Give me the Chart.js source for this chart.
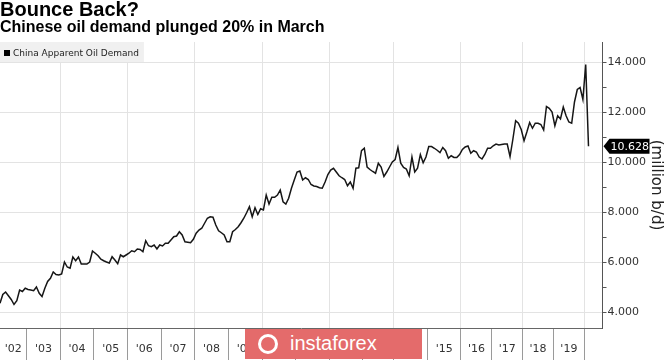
<!DOCTYPE html>
<html>
<head>
<meta charset="utf-8">
<script src="https://cdn.jsdelivr.net/npm/chart.js@4.4.1/dist/chart.umd.min.js"></script>
<style>
  body { margin: 0; background: #fff; }
  #wrap { position: relative; width: 665px; height: 360px; }
  #stamp {
    position: absolute; left: 245px; top: 329px; width: 177px; height: 30px;
    box-sizing: border-box; padding-left: 45px;
    background: #e46b6b; color: #fff;
    font: 20px "Liberation Sans", Arial, sans-serif; line-height: 29px;
  }
  #stamp .logo {
    position: absolute; left: 13px; top: 5px; width: 14px; height: 14px;
    border: 3px solid #fff; border-radius: 50%;
  }
</style>
</head>
<body>
<div id="wrap">
  <canvas id="oilChart"></canvas>
  <div id="stamp"><span class="logo"></span>instaforex</div>
</div>
<script>
// monthly China apparent oil demand, million b/d (Jan-Feb reported together in later years)
const years = [2002, 2003, 2004, 2005, 2006, 2007, 2008, 2009, 2010, 2011,
               2012, 2013, 2014, 2015, 2016, 2017, 2018, 2019, 2020];
const v2002 = [4.35, 4.7, 4.8, 4.65, 4.5, 4.3, 4.45, 4.88, 4.82, 4.95];
const v2003 = [4.9, 4.88, 4.85, 5.0, 4.75, 4.62, 4.95, 5.22, 5.35, 5.6, 5.5, 5.48];
const v2004 = [5.52, 6.0, 5.8, 5.75, 6.2, 6.05, 6.2, 5.92, 5.92, 5.92, 6.0, 6.44];
const v2005 = [6.35, 6.25, 6.11, 6.05, 6.0, 5.96, 6.21, 6.08, 5.93, 6.28, 6.21, 6.28];
const v2006 = [6.35, 6.45, 6.41, 6.52, 6.5, 6.41, 6.85, 6.65, 6.61, 6.68, 6.52, 6.68];
const v2007 = [6.64, 6.75, 6.75, 6.88, 7.01, 7.04, 7.21, 7.08, 6.81, 6.79, 6.77, 6.91];
const v2008 = [7.15, 7.28, 7.35, 7.55, 7.75, 7.81, 7.79, 7.48, 7.25, 7.17, 7.08, 6.81];
const v2009 = [6.81, 7.21, 7.3, 7.41, 7.57, 7.75, 7.97, 8.21, 7.81, 8.17, 7.9, 8.13];
const v2010 = [8.08, 8.68, 8.32, 8.59, 8.59, 8.68, 8.88, 8.41, 8.32, 8.55, 8.95, 9.28];
const v2011 = [9.6, 9.64, 9.28, 9.37, 9.3, 9.1, 9.04, 9.02, 8.97, 8.95, 9.2, 9.5];
const v2012 = [9.68, 9.75, 9.6, 9.45, 9.37, 9.3, 9.05, 9.2, 8.95, 9.75, 9.77, 10.45];
const v2013 = [10.55, 9.8, 9.7, 9.62, 9.55, 9.95, 9.8, 9.42, 9.6, 9.8, 10.0];
const v2014 = [10.1, 10.58, 9.95, 9.78, 9.72, 9.45, 10.2, 9.6, 9.75, 10.3, 9.97, 10.2];
const v2015 = [10.62, 10.62, 10.55, 10.47, 10.38, 10.58, 10.45, 10.15, 10.25, 10.18, 10.18, 10.3];
const v2016 = [10.5, 10.6, 10.64, 10.35, 10.45, 10.4, 10.2, 10.12, 10.3, 10.55, 10.55];
const v2017 = [10.65, 10.72, 10.68, 10.7, 10.72, 10.72, 10.22, 10.9, 11.65, 11.55, 11.3];
const v2018 = [10.85, 11.2, 11.58, 11.35, 11.55, 11.55, 11.5, 11.28, 12.22, 12.15, 12.0];
const v2019 = [11.45, 11.85, 11.72, 12.2, 11.85, 11.6, 11.55, 12.4, 12.9, 12.98, 12.5];
const v2020 = [13.9, 10.628];
const yearSeries = [v2002, v2003, v2004, v2005, v2006, v2007, v2008, v2009, v2010, v2011,
                    v2012, v2013, v2014, v2015, v2016, v2017, v2018, v2019, v2020];
const yearTicks = ["'02", "'03", "'04", "'05", "'06", "'07", "'08", "'09", "'10", "'11",
                   "'12", "'13", "'14", "'15", "'16", "'17", "'18", "'19"];
const monthNames = ['Jan', 'Feb', 'Mar', 'Apr', 'May', 'Jun', 'Jul', 'Aug', 'Sep', 'Oct', 'Nov', 'Dec'];
const yTicks = [4, 5, 6, 7, 8, 9, 10, 11, 12, 13, 14];
const yLabelled = [4, 6, 8, 10, 12, 14];

const TEXT = '"DejaVu Sans", sans-serif';
const HEAD = '"Liberation Sans", Arial, sans-serif';

function monthsFor(year, n) {
    if (n === 12) return monthNames.slice();
    if (year === 2002) return monthNames.slice(12 - n);
    return ['Jan-Feb'].concat(monthNames.slice(2, n + 1));
}

const labels = [];
const values = [];
const yearStart = {};
const yearSpans = [];
years.forEach((yr, k) => {
    const vals = yearSeries[k];
    const start = values.length;
    yearStart[start] = yr;
    monthsFor(yr, vals.length).forEach((m, j) => {
        labels.push(m + ' ' + yr);
        values.push(vals[j]);
    });
    if (yearTicks[k]) yearSpans.push({ text: yearTicks[k], from: start, to: start + vals.length - 1 });
});
// a little empty room right of the last month, as in the original
for (let s = 0; s < 5; s++) labels.push('');
const lastValue = values[values.length - 1];

// year labels sit between the long year ticks, below the axis
const yearLabels = {
    id: 'yearLabels',
    afterDraw(chart) {
        const { ctx } = chart;
        const xs = chart.scales.x;
        ctx.save();
        ctx.font = '11px ' + TEXT;
        ctx.fillStyle = '#333';
        ctx.textAlign = 'center';
        ctx.textBaseline = 'middle';
        yearSpans.forEach(s => {
            const mid = (Math.max(s.from - 0.5, 0) + s.to + 0.5) / 2;
            ctx.fillText(s.text, xs.getPixelForValue(mid), xs.top + 21.5);
        });
        ctx.restore();
    }
};

const legendBox = {
    id: 'legendBox',
    afterDatasetsDraw(chart) {
        const { ctx, chartArea } = chart;
        const text = chart.data.datasets[0].label;
        ctx.save();
        ctx.font = '9px ' + TEXT;
        const w = ctx.measureText(text).width;
        ctx.fillStyle = '#f0f0f0';
        ctx.fillRect(chartArea.left, chartArea.top, w + 18, 20);
        ctx.fillStyle = '#000';
        ctx.fillRect(chartArea.left + 4, chartArea.top + 8, 6, 6);
        ctx.fillStyle = '#222';
        ctx.textBaseline = 'middle';
        ctx.fillText(text, chartArea.left + 13, chartArea.top + 11.5);
        ctx.restore();
    }
};

const lastTag = {
    id: 'lastTag',
    afterDraw(chart) {
        const { ctx, chartArea } = chart;
        const y = chart.scales.y.getPixelForValue(lastValue);
        const x = chartArea.right + 1;
        ctx.save();
        ctx.fillStyle = '#000';
        ctx.beginPath();
        ctx.moveTo(x, y);
        ctx.lineTo(x + 6, y - 7.5);
        ctx.lineTo(x + 46, y - 7.5);
        ctx.lineTo(x + 46, y + 7.5);
        ctx.lineTo(x + 6, y + 7.5);
        ctx.closePath();
        ctx.fill();
        ctx.fillStyle = '#fff';
        ctx.font = '11px ' + TEXT;
        ctx.textBaseline = 'middle';
        ctx.fillText(lastValue.toFixed(3), x + 7, y + 0.5);
        ctx.restore();
    }
};

const ctx = document.getElementById('oilChart').getContext('2d');
new Chart(ctx, {
    type: 'line',
    data: {
        labels: labels,
        datasets: [{
            label: 'China Apparent Oil Demand',
            data: values,
            borderColor: '#161616',
            borderWidth: 1.5,
            pointRadius: 0,
            tension: 0,
            fill: false
        }]
    },
    options: {
        responsive: true,
        maintainAspectRatio: false,
        animation: false,
        layout: { padding: 0 },
        plugins: {
            legend: { display: false },
            tooltip: { enabled: false },
            title: {
                display: true,
                text: 'Bounce Back?',
                align: 'start',
                color: '#000',
                font: { family: HEAD, size: 20, weight: 'bold', lineHeight: 1 },
                padding: { top: 0, bottom: 0 }
            },
            subtitle: {
                display: true,
                text: 'Chinese oil demand plunged 20% in March',
                align: 'start',
                color: '#000',
                font: { family: HEAD, size: 16, weight: 'bold', lineHeight: 1 },
                padding: { top: 0, bottom: 6 }
            }
        },
        scales: {
            x: {
                type: 'category',
                offset: false,
                border: { color: '#666' },
                grid: {
                    offset: true,
                    tickLength: 32,
                    color: c => {
                        const yr = yearStart[c.index];
                        return yr && yr > 2002 && yr % 2 === 0 ? '#e3e3e3' : 'transparent';
                    },
                    tickColor: c => {
                        const yr = yearStart[c.index];
                        return yr && yr > 2002 ? '#9a9a9a' : 'transparent';
                    }
                },
                ticks: { display: false }
            },
            y: {
                position: 'right',
                min: 3.36,
                max: 14.8,
                afterBuildTicks: scale => {
                    scale.ticks = yTicks.map(v => ({ value: v }));
                },
                border: { color: '#555' },
                grid: {
                    tickLength: 4,
                    tickColor: '#555',
                    color: c => (c.tick && c.tick.value % 2 === 0 ? '#e3e3e3' : 'transparent')
                },
                ticks: {
                    padding: 1,
                    color: '#333',
                    font: { family: TEXT, size: 11 },
                    callback: v => (yLabelled.includes(v) ? v.toFixed(3) : '')
                },
                title: {
                    display: true,
                    text: '(million b/d)',
                    color: '#222',
                    font: { family: TEXT, size: 15 },
                    padding: { top: 0, bottom: 0 }
                }
            }
        }
    },
    plugins: [legendBox, lastTag, yearLabels]
});
</script>
</body>
</html>
